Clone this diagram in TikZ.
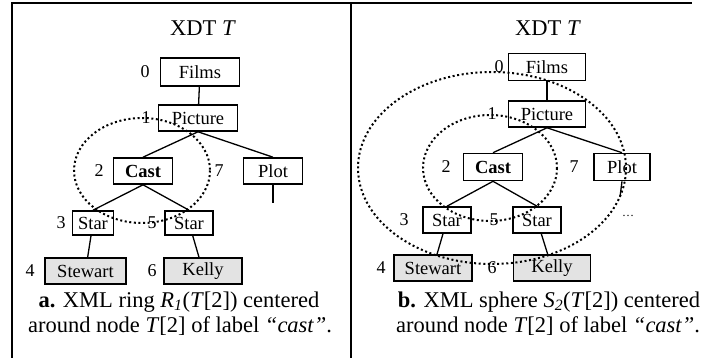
\documentclass[tikz,border=0pt]{standalone}
\usepackage{fontspec}
\setmainfont{Liberation Serif}
\begin{document}
\begin{tikzpicture}[x=1pt,y=-1pt,
  box/.style={draw,line width=1.6pt,inner sep=0pt,font=\fontsize{18.5}{20}\selectfont},
  gbox/.style={box,fill=gray!22},
  num/.style={inner sep=0pt,font=\fontsize{18}{20}\selectfont},
  edge/.style={line width=1.3pt},
  ring/.style={line width=2pt,dash pattern=on 2pt off 2.6pt},
  frame/.style={line width=2.6pt},
  captxt/.style={inner sep=0pt,font=\fontsize{22.5}{25}\selectfont},
  ttl/.style={inner sep=0pt,font=\fontsize{22.5}{25}\selectfont}]
\useasboundingbox (0,0) rectangle (705,358);
% frame
\coordinate (fa) at (12,358);
\coordinate (fb) at (12,3);
\coordinate (fc) at (692,3);
\coordinate (fd) at (351,3);
\coordinate (fe) at (351,358);
\draw[frame] (fa) -- (fb) -- (fc);
\draw[frame] (fd) -- (fe);

% ===== left panel =====
\node[ttl] (lt) at (203,28) {XDT \textit{T}};
\node[box,minimum width=79pt,minimum height=28pt] (lfilms) at (200,72) {Films};
\node[box,minimum width=79pt,minimum height=26pt] (lpic) at (198,118) {Picture};
\node[box,minimum width=59pt,minimum height=26pt] (lcast) at (143,171) {\textbf{Cast}};
\node[box,minimum width=59pt,minimum height=26pt] (lplot) at (273,171) {Plot};
\node[box,minimum width=41pt,minimum height=24pt] (lstar3) at (93,223) {Star};
\node[box,minimum width=48pt,minimum height=24pt] (lstar5) at (189,223) {Star};
\node[gbox,minimum width=81pt,minimum height=26pt] (lstew) at (85.5,271) {Stewart};
\node[gbox,minimum width=78pt,minimum height=26pt] (lkel) at (203,271) {Kelly};
\node[num] (ln0) at (145,72) {0};
\node[num] (ln1) at (146,118) {1};
\node[num] (ln2) at (99,171) {2};
\node[num] (ln7) at (219,171) {7};
\node[num] (ln3) at (61,223) {3};
\node[num] (ln5) at (152,223) {5};
\node[num] (ln4) at (30,271) {4};
\node[num] (ln6) at (152,271) {6};
\coordinate (lstub) at (273,203);
\draw[edge] (lfilms) -- (lpic);
\draw[edge] (lpic.south) -- (lcast.north);
\draw[edge] (lpic.south) -- (lplot.north);
\draw[edge] (lcast.south) -- (lstar3.north);
\draw[edge] (lcast.south) -- (lstar5.north);
\draw[edge] (lstar3) -- (lstew);
\draw[edge] (lstar5) -- (lkel);
\draw[edge] (lplot.south) -- (lstub);
\draw[ring] (142,170.5) ellipse [x radius=68, y radius=52.5];
\node[captxt] (lc1) at (179,302) {\textbf{a.} XML ring \textit{R}\textsubscript{\textit{1}}(\textit{T}[2]) centered};
\node[captxt] (lc2) at (180,326) {around node \textit{T}[2] of label \textit{“cast”}.};

% ===== right panel =====
\node[ttl] (rt) at (548,28) {XDT \textit{T}};
\node[box,minimum width=77pt,minimum height=27pt] (rfilms) at (547,67) {Films};
\node[box,minimum width=77pt,minimum height=26pt] (rpic) at (547,114) {Picture};
\node[box,minimum width=59pt,minimum height=27pt] (rcast) at (493,167) {\textbf{Cast}};
\node[box,minimum width=56pt,minimum height=27pt] (rplot) at (622,167) {Plot};
\node[box,minimum width=48pt,minimum height=26pt] (rstar3) at (447,220) {Star};
\node[box,minimum width=48pt,minimum height=26pt] (rstar5) at (537,220) {Star};
\node[gbox,minimum width=78pt,minimum height=26pt] (rstew) at (433,268) {Stewart};
\node[gbox,minimum width=77pt,minimum height=26pt] (rkel) at (552,268) {Kelly};
\node[num] (rn0) at (499,67) {0};
\node[num] (rn1) at (492,114) {1};
\node[num] (rn2) at (446,167) {2};
\node[num] (rn7) at (574,167) {7};
\node[num] (rn3) at (404,220) {3};
\node[num] (rn5) at (494,220) {5};
\node[num] (rn4) at (381,268) {4};
\node[num] (rn6) at (492,268) {6};
\node[num,font=\fontsize{12}{14}\selectfont] (rdots) at (628,216) {\dots};
\coordinate (rstub) at (620,197);
\draw[edge] (rfilms) -- (rpic);
\draw[edge] (rpic.south) -- (rcast.north);
\draw[edge] (rpic.south) -- (rplot.north);
\draw[edge] (rcast.south) -- (rstar3.north);
\draw[edge] (rcast.south) -- (rstar5.north);
\draw[edge] (rstar3) -- (rstew);
\draw[edge] (rstar5) -- (rkel);
\draw[edge] (rplot.south) -- (rstub);
\draw[ring] (490,168) ellipse [x radius=67, y radius=53];
\draw[ring] (492,168) ellipse [x radius=134, y radius=96];
\node[captxt] (rc1) at (549,302) {\textbf{b.} XML sphere \textit{S}\textsubscript{\textit{2}}(\textit{T}[2]) centered};
\node[captxt] (rc2) at (548,326) {around node \textit{T}[2] of label \textit{“cast”}.};
\end{tikzpicture}
\end{document}
